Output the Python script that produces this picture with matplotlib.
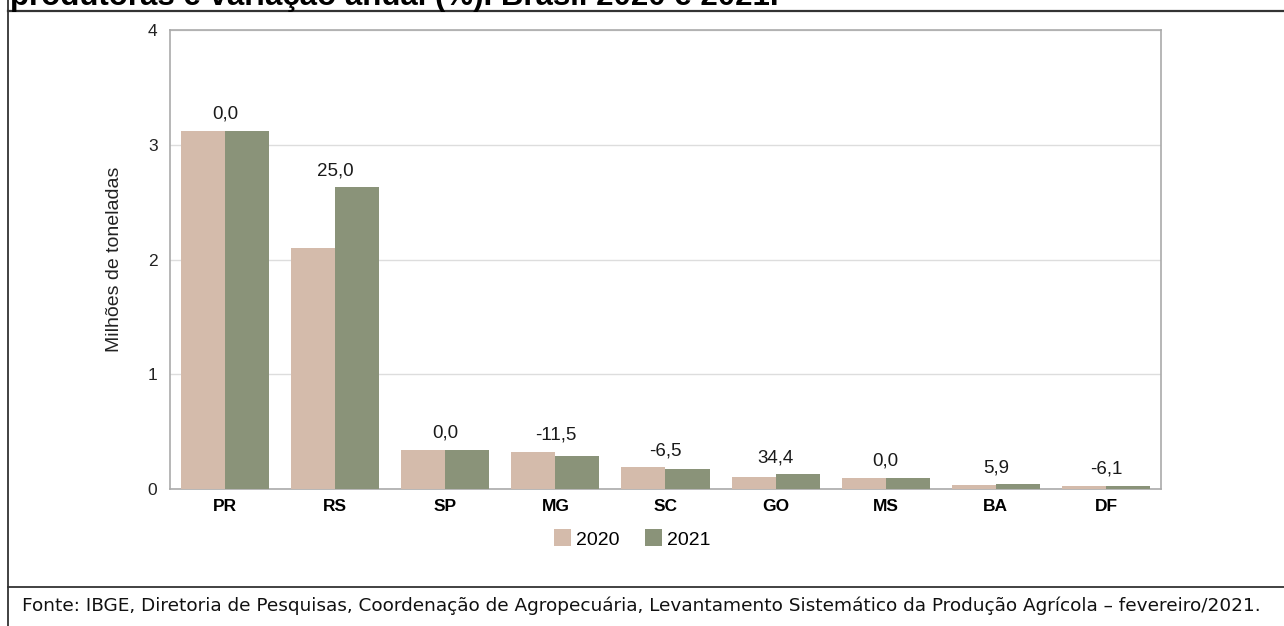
import matplotlib
matplotlib.use('Agg')
import matplotlib.pyplot as plt
import numpy as np
from matplotlib.lines import Line2D

plt.rcParams['font.family'] = ['Liberation Sans', 'DejaVu Sans']

# dados (milhões de toneladas)
estados = ['PR', 'RS', 'SP', 'MG', 'SC', 'GO', 'MS', 'BA', 'DF']
prod_2020 = [3.12, 2.10, 0.34, 0.325, 0.19, 0.105, 0.096, 0.037, 0.026]
prod_2021 = [3.12, 2.63, 0.34, 0.285, 0.177, 0.13, 0.096, 0.040, 0.025]
variacao = ['0,0', '25,0', '0,0', '-11,5', '-6,5', '34,4', '0,0', '5,9', '-6,1']
anos = ['2020', '2021']

cor_2020 = '#d4bbab'
cor_2021 = '#8a9379'

W, H = 1284, 626
fig = plt.figure(figsize=(W / 100, H / 100), dpi=100, facecolor='white')

# eixo principal em pixels
x0, y0, x1, y1 = 170, 30, 1161, 489
ax = fig.add_axes([x0 / W, 1 - y1 / H, (x1 - x0) / W, (y1 - y0) / H])

x = np.arange(len(estados))
w = 0.4
ax.bar(x - w / 2, prod_2020, w, color=cor_2020, label=anos[0], zorder=3)
ax.bar(x + w / 2, prod_2021, w, color=cor_2021, label=anos[1], zorder=3)

for i, txt in enumerate(variacao):
    top = max(prod_2020[i], prod_2021[i])
    ax.text(x[i], top + 0.07, txt, ha='center', va='bottom', fontsize=13.5, color='#1a1a1a')

ax.set_xlim(-0.5, len(estados) - 0.5)
ax.set_ylim(0, 4)
ax.set_yticks([0, 1, 2, 3, 4])
ax.set_xticks(x)
ax.set_xticklabels(estados, fontweight='bold', fontsize=12.5)
ax.tick_params(axis='x', length=0, pad=7)
ax.tick_params(axis='y', length=0, labelsize=12.5, pad=9, labelcolor='#222222')
ax.yaxis.grid(True, color='#dddddd', linewidth=1, zorder=0)
for s in ax.spines.values():
    s.set_color('#aaaaaa')
    s.set_linewidth(1.2)
ax.set_ylabel('Milhões de toneladas', fontsize=14, labelpad=18, color='#222222')

ax.legend(loc='center', bbox_to_anchor=(632 / W, 1 - 539 / H), bbox_transform=fig.transFigure,
          ncol=2, frameon=False, fontsize=14, handlelength=0.9, handleheight=0.95,
          columnspacing=1.3, handletextpad=0.25, borderpad=0)

# moldura e título cortado
fig.add_artist(Line2D([8 / W, 8 / W], [0, 1], color='#333333', linewidth=1.3))
fig.add_artist(Line2D([8 / W, 1], [1 - 11 / H, 1 - 11 / H], color='#333333', linewidth=1.6))
fig.add_artist(Line2D([8 / W, 1], [1 - 587 / H, 1 - 587 / H], color='#333333', linewidth=1.3))

fig.text(10 / W, 1 - 5 / H, 'produtoras e variação anual (%). Brasil 2020 e 2021.',
         fontsize=22.5, fontweight='bold', va='baseline', ha='left')

fig.text(22 / W, 1 - 606 / H,
         'Fonte: IBGE, Diretoria de Pesquisas, Coordenação de Agropecuária, '
         'Levantamento Sistemático da Produção Agrícola \u2013 fevereiro/2021.',
         fontsize=13.3, va='center', ha='left', color='#111111', family=['DejaVu Sans'])

fig.savefig('out.png', dpi=100, facecolor='white')
